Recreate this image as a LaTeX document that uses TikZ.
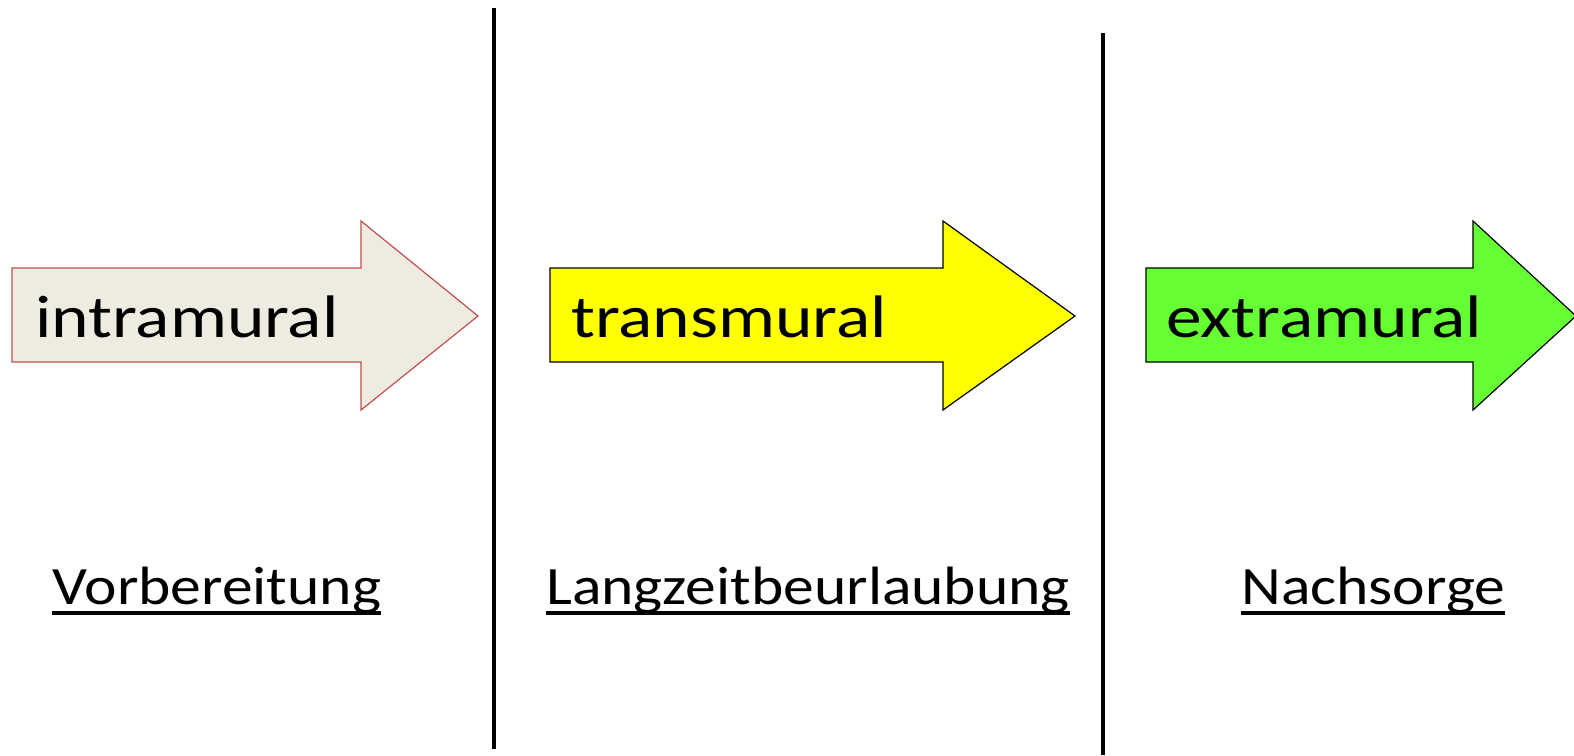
\documentclass[tikz,border=0pt]{standalone}
\usepackage{fontspec}
\setmainfont{Carlito}
\definecolor{beigefill}{HTML}{EEECE1}
\definecolor{redline}{HTML}{C0504D}
\definecolor{yellowfill}{HTML}{FFFF00}
\definecolor{greenfill}{HTML}{66FF33}
\begin{document}
\begin{tikzpicture}[x=1pt,y=-1pt,
  arrowtxt/.style={anchor=base west,inner sep=0pt,xscale=1.19,font=\fontsize{60}{70}\selectfont},
  phasetxt/.style={anchor=base west,inner sep=0pt,xscale=1.14,font=\fontsize{54}{60}\selectfont},
  divider/.style={line width=4pt},
  uline/.style={line width=3.5pt}]
\useasboundingbox (0,0) rectangle (1574,755);
% arrows
\draw[redline,line width=1.2pt,fill=beigefill]
  (12,268) -- (361,268) -- (361,221) -- (478,316) -- (361,410) -- (361,362) -- (12,362) -- cycle;
\draw[black,line width=1.2pt,fill=yellowfill]
  (550,268) -- (943,268) -- (943,221) -- (1075,316) -- (943,410) -- (943,362) -- (550,362) -- cycle;
\draw[black,line width=1.2pt,fill=greenfill]
  (1146,268) -- (1473,268) -- (1473,221) -- (1576,316) -- (1473,410) -- (1473,362) -- (1146,362) -- cycle;
\node[arrowtxt] (t1) at (35,337) {intramural};
\node[arrowtxt] (t2) at (571,337) {transmural};
\node[arrowtxt] (t3) at (1166,337) {extramural};
% dividers
\coordinate (d1a) at (494,8);
\coordinate (d1b) at (494,749);
\coordinate (d2a) at (1103,33);
\coordinate (d2b) at (1103,755);
\draw[divider] (d1a) -- (d1b);
\draw[divider] (d2a) -- (d2b);
% phase labels
\node[phasetxt] (p1) at (52,604) {Vorbereitung};
\node[phasetxt] (p2) at (546,604) {Langzeitbeurlaubung};
\node[phasetxt] (p3) at (1241,604) {Nachsorge};
\foreach \n in {p1,p2,p3}{
  \draw[uline] ([yshift=-9pt]\n.base west) -- ([yshift=-9pt]\n.base east);
}
\end{tikzpicture}
\end{document}
